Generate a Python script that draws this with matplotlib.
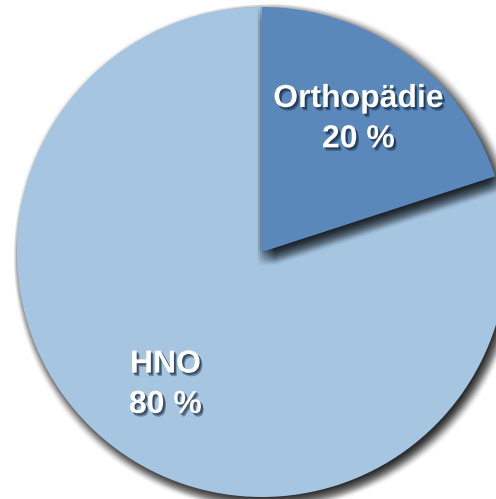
import matplotlib
matplotlib.use("Agg")
import matplotlib.pyplot as plt
import matplotlib.patheffects as pe

labels = ["Orthopädie", "HNO"]
shares = [20, 80]
colors = ["#5B88BA", "#A5C5E1"]


def blur_shadow(dx, dy, spread, alpha, steps=4):
    # fake a soft drop shadow with several shifted translucent copies
    effects = []
    for i in range(-steps, steps + 1):
        for j in range(-steps, steps + 1):
            ox = dx + spread * i / steps
            oy = dy + spread * j / steps
            effects.append(pe.SimplePatchShadow(offset=(ox, oy), shadow_rgbFace="black",
                                                alpha=alpha))
    effects.append(pe.Normal())
    return effects


fig = plt.figure(figsize=(4.96, 4.99), dpi=100)
ax = fig.add_axes([0, 0, 1, 1])

it = iter(labels)
wedges, texts, autotexts = ax.pie(
    shares, colors=colors, startangle=90, counterclock=False,
    center=(262, 247), radius=245, pctdistance=0.67,
    autopct=lambda p: f"{next(it)}\n{p:.0f} %",
    wedgeprops=dict(linewidth=0),
)

wedges[1].set_zorder(2)
wedges[1].set_path_effects(blur_shadow(3, -3.5, 5, 0.018))
wedges[0].set_zorder(3)
wedges[0].set_path_effects(blur_shadow(3, -4, 6, 0.02))

for t in autotexts:
    t.set_zorder(5)
    t.set_color("white")
    t.set_fontfamily("Liberation Sans")
    t.set_fontweight("bold")
    t.set_fontsize(23)
    t.set_linespacing(1.45)
    t.set_path_effects([
        pe.SimplePatchShadow(offset=(1.5, -1.5), shadow_rgbFace="#0b1e33", alpha=0.35),
        pe.SimplePatchShadow(offset=(2, -2.5), shadow_rgbFace="#0b1e33", alpha=0.35),
        pe.SimplePatchShadow(offset=(1, -1), shadow_rgbFace="#0b1e33", alpha=0.35),
        pe.Normal(),
    ])

ax.set_xlim(0, 496)
ax.set_ylim(0, 499)
ax.set_aspect("equal")
ax.axis("off")

fig.savefig("out.png", dpi=100)
